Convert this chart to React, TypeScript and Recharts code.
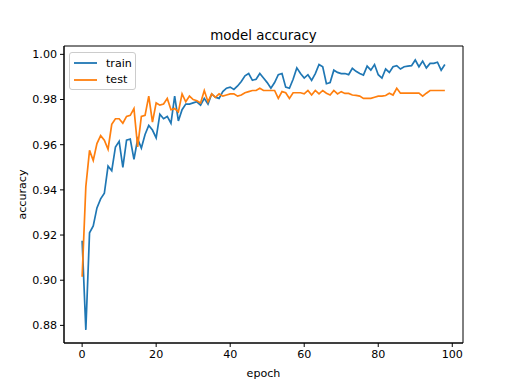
import { Line, LineChart, ReferenceArea, XAxis, YAxis } from "recharts";

const train = [
  0.9175, 0.878, 0.921, 0.924, 0.932, 0.936, 0.9385, 0.9505, 0.9485, 0.959,
  0.9615, 0.95, 0.962, 0.9625, 0.9535, 0.9625, 0.9585, 0.9645, 0.9685, 0.9665,
  0.963, 0.9735, 0.9715, 0.9725, 0.9695, 0.9815, 0.9705, 0.9755, 0.978, 0.978,
  0.9785, 0.979, 0.9775, 0.9805, 0.978, 0.9825, 0.981, 0.9805, 0.9835, 0.985,
  0.9855, 0.9845, 0.986, 0.988, 0.9905, 0.9915, 0.9885, 0.989, 0.9915, 0.9895,
  0.9875, 0.985, 0.9875, 0.991, 0.9915, 0.9855, 0.985, 0.989, 0.994, 0.9915,
  0.9895, 0.991, 0.9885, 0.9915, 0.9955, 0.9945, 0.987, 0.9875, 0.993, 0.992,
  0.9915, 0.9915, 0.991, 0.9938, 0.9925, 0.9915, 0.9908, 0.9948, 0.993, 0.9955,
  0.991, 0.9895, 0.9935, 0.992, 0.9945, 0.995, 0.9935, 0.9945, 0.9948, 0.995,
  0.9975, 0.9945, 0.997, 0.994, 0.996, 0.996, 0.9965, 0.993, 0.9955,
];

const test = [
  0.9015, 0.9415, 0.9575, 0.953, 0.9605, 0.964, 0.962, 0.958, 0.969, 0.9715,
  0.9715, 0.9695, 0.9725, 0.973, 0.976, 0.959, 0.9725, 0.973, 0.9815, 0.97,
  0.9785, 0.9775, 0.978, 0.9805, 0.9755, 0.976, 0.9745, 0.9825, 0.979, 0.9815,
  0.98, 0.9795, 0.9785, 0.984, 0.979, 0.9825, 0.981, 0.9825, 0.9815, 0.982,
  0.9825, 0.9825, 0.9815, 0.982, 0.983, 0.9835, 0.984, 0.984, 0.985, 0.984,
  0.984, 0.984, 0.984, 0.9805, 0.9835, 0.983, 0.9805, 0.983, 0.983, 0.983,
  0.9825, 0.984, 0.982, 0.984, 0.9825, 0.984, 0.9828, 0.982, 0.984, 0.9825,
  0.9835, 0.9827, 0.9827, 0.982, 0.9818, 0.9815, 0.9805, 0.9805, 0.9805, 0.981,
  0.9815, 0.9815, 0.9818, 0.9828, 0.982, 0.985, 0.9828, 0.9828, 0.9828, 0.9828,
  0.9828, 0.9828, 0.9815, 0.9828, 0.984, 0.984, 0.984, 0.984, 0.984,
];

const xTicks = [0, 20, 40, 60, 80, 100];
const yTicks = [0.88, 0.9, 0.92, 0.94, 0.96, 0.98, 1.0];
const xDomain: [number, number] = [-4.9, 102.9];
const yDomain: [number, number] = [0.8722, 1.0037];

const data = train.map((v, i) => ({ epoch: i, train: v, test: test[i] }));

const FONT = "DejaVu Sans";
const BLUE = "#1f77b4";
const ORANGE = "#ff7f0e";

const series = [
  { name: "train", color: BLUE },
  { name: "test", color: ORANGE },
];

function LegendBox() {
  return (
    <div
      style={{
        position: "absolute",
        left: 69,
        top: 52,
        width: 65,
        height: 36,
        border: "1px solid #cccccc",
        borderRadius: 3,
        background: "rgba(255,255,255,0.8)",
        fontFamily: FONT,
        fontSize: 11.1,
        color: "#000",
      }}
    >
      {series.map((r, i) => (
        <div
          key={r.name}
          style={{
            position: "absolute",
            left: 4,
            top: 2 + i * 16.5,
            height: 16,
            display: "flex",
            alignItems: "center",
          }}
        >
          <svg width={23} height={4} style={{ display: "block" }}>
            <line x1={0} y1={2} x2={23} y2={2} stroke={r.color} strokeWidth={1.8} />
          </svg>
          <span style={{ marginLeft: 9 }}>{r.name}</span>
        </div>
      ))}
    </div>
  );
}

export default function App() {
  return (
    <div
      style={{
        position: "absolute",
        left: 0,
        top: 0,
        width: 514,
        height: 385,
        background: "#fff",
      }}
    >
      <LineChart
        width={514}
        height={385}
        data={data}
        margin={{ top: 46, right: 51, bottom: 0, left: 0 }}
      >
        <XAxis
          dataKey="epoch"
          type="number"
          domain={xDomain}
          ticks={xTicks}
          allowDataOverflow
          height={42}
          stroke="#000"
          tickSize={4}
          tickMargin={3}
          tick={{ fontFamily: FONT, fontSize: 11.1, fill: "#000" }}
          label={{
            value: "epoch",
            position: "insideBottom",
            offset: 8,
            style: { fontFamily: FONT, fontSize: 11.1, fill: "#000" },
          }}
        />
        <YAxis
          type="number"
          domain={yDomain}
          ticks={yTicks}
          allowDataOverflow
          width={64}
          stroke="#000"
          tickSize={4}
          tickMargin={3}
          tickFormatter={(v: number) => v.toFixed(2)}
          tick={{ fontFamily: FONT, fontSize: 11.1, fill: "#000" }}
          label={{
            value: "accuracy",
            angle: -90,
            position: "insideLeft",
            offset: 22,
            style: {
              fontFamily: FONT,
              fontSize: 11.1,
              fill: "#000",
              textAnchor: "middle",
            },
          }}
        />
        <ReferenceArea
          x1={xDomain[0]}
          x2={xDomain[1]}
          y1={yDomain[0]}
          y2={yDomain[1]}
          fill="none"
          fillOpacity={0}
          stroke="#000"
          strokeWidth={1}
          ifOverflow="visible"
          label={{
            value: "model accuracy",
            position: "top",
            offset: 6,
            style: { fontFamily: FONT, fontSize: 13.4, fill: "#000" },
          }}
        />
        <Line
          type="linear"
          dataKey="train"
          stroke={BLUE}
          strokeWidth={1.7}
          dot={false}
          isAnimationActive={false}
        />
        <Line
          type="linear"
          dataKey="test"
          stroke={ORANGE}
          strokeWidth={1.7}
          dot={false}
          isAnimationActive={false}
        />
      </LineChart>
      <LegendBox />
    </div>
  );
}
